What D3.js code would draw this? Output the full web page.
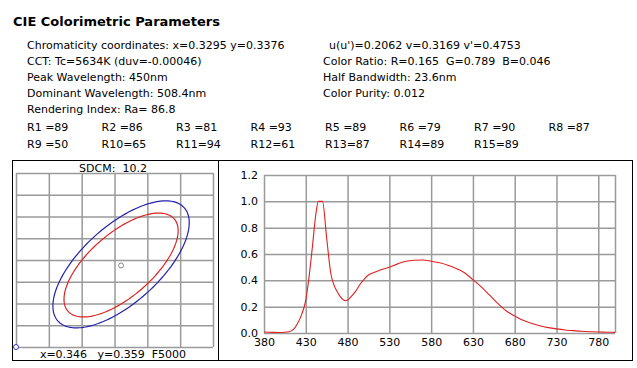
<!DOCTYPE html>
<html>
<head>
<meta charset="utf-8">
<script src="https://cdn.jsdelivr.net/npm/d3@7"></script>
<style>
  body { margin: 0; background: #fff; }
  svg { display: block; font-family: "DejaVu Sans", Verdana, sans-serif; }
</style>
</head>
<body>
<svg width="637" height="368"></svg>
<script>
// parameter text
const title = 'CIE Colorimetric Parameters';
const leftLines = [
  'Chromaticity coordinates: x=0.3295 y=0.3376',
  'CCT: Tc=5634K (duv=-0.00046)',
  'Peak Wavelength: 450nm',
  'Dominant Wavelength: 508.4nm',
  'Rendering Index: Ra= 86.8'
];
const rightLines = [
  "u(u')=0.2062 v=0.3169 v'=0.4753",
  'Color Ratio: R=0.165  G=0.789  B=0.046',
  'Half Bandwidth: 23.6nm',
  'Color Purity: 0.012'
];
const riNames = ['R1 ','R2 ','R3 ','R4 ','R5 ','R6 ','R7 ','R8 ','R9 ','R10','R11','R12','R13','R14','R15'];
const riValues = [89, 86, 81, 93, 89, 79, 90, 87, 50, 65, 94, 61, 87, 89, 89];

// spectrum
const wavelengths = [380,390,400,410,415,420,425,430,434,438,442,445,450,455,460,464,468,472,477,480,484,490,495,500,505,510,520,530,540,550,560,570,580,590,600,610,620,630,640,650,660,670,680,690,700,710,720,730,740,750,760,770,780,790,800];
const intensity   = [0.008,0.005,0.004,0.01,0.025,0.07,0.14,0.25,0.43,0.66,0.9,1.0,1.0,0.72,0.45,0.36,0.31,0.27,0.245,0.25,0.275,0.32,0.37,0.41,0.44,0.455,0.48,0.50,0.525,0.545,0.553,0.555,0.545,0.533,0.515,0.49,0.457,0.405,0.35,0.287,0.223,0.167,0.13,0.096,0.074,0.055,0.041,0.031,0.023,0.018,0.013,0.01,0.008,0.006,0.005];
const xTicks = [380,430,480,530,580,630,680,730,780];
const yTicks = [0,0.2,0.4,0.6,0.8,1.0,1.2];

// SDCM ellipses (grid units: center, major axis vector, minor axis vector)
const sdcmText = 'SDCM:  10.2';
const refText = 'x=0.346   y=0.359  F5000';
const ellipses = [
  {name: 'outer', cx: 3.2, cy: 3.8, ax: 1.92, ay: 2.61, bx: 0.79, by: -1.31, color: '#2222aa'},
  {name: 'inner', cx: 3.2, cy: 3.77, ax: 1.62, ay: 2.12, bx: 0.63, by: -1.10, color: '#dd2222'}
];
const testPoint = [3.2, 3.75];

const svg = d3.select('svg');

svg.append('text').attr('x', 13).attr('y', 26)
  .attr('font-size', 13).attr('font-weight', 'bold').text(title);

const lineY = [49, 65, 81, 97, 113];
leftLines.forEach((t, i) => {
  svg.append('text').attr('x', 27).attr('y', lineY[i]).attr('font-size', 11).text(t);
});
rightLines.forEach((t, i) => {
  svg.append('text').attr('x', i === 0 ? 329 : 323).attr('y', lineY[i]).attr('font-size', 11)
    .style('white-space', 'pre').text(t);
});
riNames.forEach((n, i) => {
  svg.append('text')
    .attr('x', 27 + (i % 8) * 74.5)
    .attr('y', i < 8 ? 131 : 148)
    .attr('font-size', 11)
    .style('white-space', 'pre')
    .text(n + '=' + riValues[i]);
});

// panels
svg.append('rect').attr('x', 12.5).attr('y', 160.5).attr('width', 206).attr('height', 200)
  .attr('fill', 'none').attr('stroke', '#000');
svg.append('rect').attr('x', 218.5).attr('y', 160.5).attr('width', 414).attr('height', 200)
  .attr('fill', 'none').attr('stroke', '#000');

// left: SDCM plot
const lx = d3.scaleLinear().domain([0, 6]).range([16, 213]);
const ly = d3.scaleLinear().domain([0, 8]).range([347, 173]);
const lg = svg.append('g');
lg.append('g').attr('transform', 'translate(0,347)')
  .call(d3.axisBottom(lx).tickValues(d3.range(0, 7)).tickSize(-174).tickFormat(''))
  .call(g => g.select('.domain').remove());
lg.append('g').attr('transform', 'translate(16,0)')
  .call(d3.axisLeft(ly).tickValues(d3.range(0, 9)).tickSize(-197).tickFormat(''))
  .call(g => g.select('.domain').remove());
lg.selectAll('.tick line').attr('stroke', '#9a9a9a').attr('stroke-width', 1.5);

const ellLine = d3.line().curve(d3.curveLinearClosed);
ellipses.forEach(e => {
  const pts = d3.range(0, 2 * Math.PI, Math.PI / 90).map(t => [
    lx(e.cx + e.ax * Math.cos(t) + e.bx * Math.sin(t)),
    ly(e.cy + e.ay * Math.cos(t) + e.by * Math.sin(t))
  ]);
  lg.append('path').attr('d', ellLine(pts)).attr('fill', 'none')
    .attr('stroke', e.color).attr('stroke-width', 1.2);
});
lg.append('circle').attr('cx', lx(testPoint[0])).attr('cy', ly(testPoint[1])).attr('r', 2.5)
  .attr('fill', '#fff').attr('stroke', '#888');
lg.append('circle').attr('cx', lx(0)).attr('cy', ly(0)).attr('r', 2.5)
  .attr('fill', '#fff').attr('stroke', '#3333cc');
lg.append('text').attr('x', 113).attr('y', 172).attr('text-anchor', 'middle')
  .attr('font-size', 11).style('white-space', 'pre').text(sdcmText);
lg.append('text').attr('x', 113).attr('y', 358).attr('text-anchor', 'middle')
  .attr('font-size', 11).style('white-space', 'pre').text(refText);

// right: spectrum
const x = d3.scaleLinear().domain([380, 800]).range([264, 615]);
const y = d3.scaleLinear().domain([0, 1.2]).range([333, 175]);
const rg = svg.append('g');
const xg = rg.append('g').attr('transform', 'translate(0,333)')
  .call(d3.axisBottom(x).tickValues(xTicks.concat([800])).tickSize(-158).tickPadding(5).tickFormat(d => d === 800 ? '' : d));
const yg = rg.append('g').attr('transform', 'translate(264,0)')
  .call(d3.axisLeft(y).tickValues(yTicks).tickSize(-351).tickPadding(6).tickFormat(d3.format('.1f')));
[xg, yg].forEach(g => {
  g.select('.domain').remove();
  g.selectAll('.tick line').attr('stroke', '#9a9a9a').attr('stroke-width', 1.5);
  g.selectAll('.tick text').attr('font-size', 11).attr('fill', '#000')
    .attr('font-family', '"DejaVu Sans", Verdana, sans-serif');
});
rg.append('path')
  .datum(wavelengths.map((w, i) => [w, intensity[i]]))
  .attr('fill', 'none').attr('stroke', '#dd2020').attr('stroke-width', 1.1)
  .attr('d', d3.line().x(d => x(d[0])).y(d => y(d[1])).curve(d3.curveMonotoneX));
</script>
</body>
</html>
